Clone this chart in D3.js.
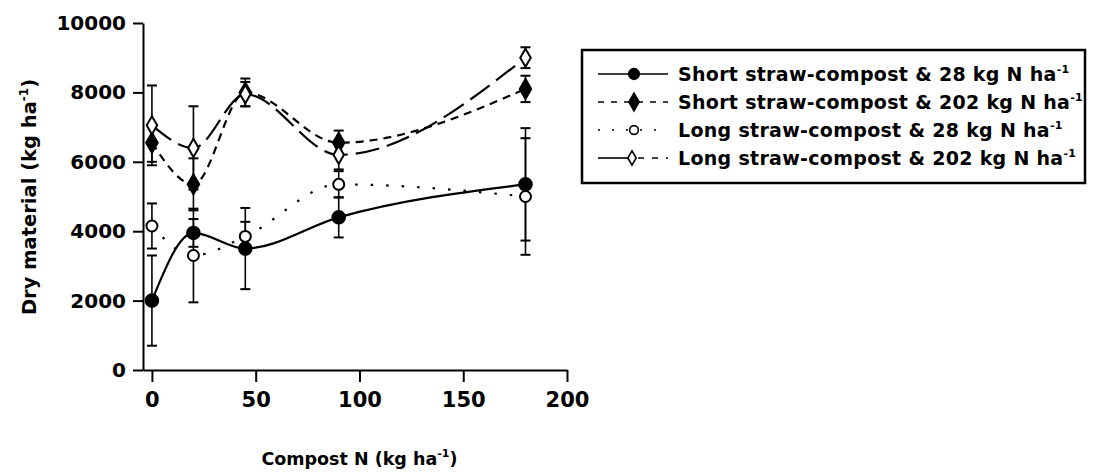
<!DOCTYPE html>
<html>
<head>
<meta charset="utf-8">
<script src="https://cdn.jsdelivr.net/npm/d3@7"></script>
<style>
    body { margin: 0; background: #fff; }
    text { font-family: "DejaVu Sans", sans-serif; font-weight: bold; fill: #000; }
    .axis path, .axis line { stroke: #000; stroke-width: 2; }
</style>
</head>
<body>
<div id="vis"></div>
<script>
// compost N applied (kg/ha)
const compostN = [0, 20, 45, 90, 180];

// dry material (kg/ha) and error bars
const shortLow = [2000, 3950, 3500, 4400, 5350];
const shortLowErr = [1300, 400, 1170, 580, 1620];
const shortHigh = [6550, 5350, 8000, 6550, 8100];
const shortHighErr = [550, 750, 400, 350, 380];
const longLow = [4150, 3300, 3850, 5350, 5000];
const longLowErr = [650, 1350, 420, 380, 1680];
const longHigh = [7050, 6400, 7950, 6200, 9000];
const longHighErr = [1150, 1200, 350, 420, 300];

const seriesNames = [
    "Short straw-compost & 28 kg N ha",
    "Short straw-compost & 202 kg N ha",
    "Long straw-compost & 28 kg N ha",
    "Long straw-compost & 202 kg N ha"
];

const xTicks = [0, 50, 100, 150, 200];
const yTicks = [0, 2000, 4000, 6000, 8000, 10000];

function init() {
    const margin = {top: 23, right: 533, bottom: 105, left: 143};
    const width = 1100 - margin.left - margin.right;
    const height = 475 - margin.top - margin.bottom;

    const series = [
        {name: seriesNames[0], values: shortLow, err: shortLowErr, marker: "circle", fill: "#000", dash: null},
        {name: seriesNames[1], values: shortHigh, err: shortHighErr, marker: "diamond", fill: "#000", dash: "8,6"},
        {name: seriesNames[2], values: longLow, err: longLowErr, marker: "circle", fill: "#fff", dash: "2.5,13"},
        {name: seriesNames[3], values: longHigh, err: longHighErr, marker: "diamond", fill: "#fff", dash: "24,8"}
    ];

    const svg = d3.select('#vis')
        .append('svg')
        .attr('width', 1100)
        .attr('height', 475)
        .append('g')
        .attr('transform', `translate(${margin.left},${margin.top})`);

    const xScale = d3.scaleLinear()
        .domain([-4.3, 200])
        .range([0, width]);
    const yScale = d3.scaleLinear()
        .domain([0, 10000])
        .range([height, 0]);

    svg.append('g')
        .attr('class', 'axis')
        .attr('transform', `translate(0, ${height})`)
        .call(d3.axisBottom(xScale).tickValues(xTicks).tickFormat(d3.format('d'))
            .tickSize(12).tickSizeOuter(0).tickPadding(10))
        .selectAll('text').style('font-size', '21px');

    svg.append('g')
        .attr('class', 'axis')
        .call(d3.axisLeft(yScale).tickValues(yTicks).tickFormat(d3.format('d'))
            .tickSize(10).tickSizeOuter(0).tickPadding(7))
        .selectAll('text').style('font-size', '20px');

    const symbolFor = s => s.marker == "circle"
        ? d3.symbol().type(d3.symbolCircle).size(s.fill == "#000" ? 125 : 95)
        : d3.symbol().type(d3.symbolDiamond).size(s.fill == "#000" ? 115 : 95);

    // error bars
    series.forEach(s => {
        const g = svg.append('g');
        compostN.forEach((x, i) => {
            const cx = xScale(x);
            const top = yScale(s.values[i] + s.err[i]);
            const bot = yScale(s.values[i] - s.err[i]);
            g.append('line').attr('x1', cx).attr('x2', cx).attr('y1', top).attr('y2', bot)
                .attr('stroke', '#000').attr('stroke-width', 1.6);
            [top, bot].forEach(y => {
                g.append('line').attr('x1', cx - 5).attr('x2', cx + 5).attr('y1', y).attr('y2', y)
                    .attr('stroke', '#000').attr('stroke-width', 2);
            });
        });
    });

    // lines
    const line = d3.line()
        .x((d, i) => xScale(compostN[i]))
        .y(d => yScale(d))
        .curve(d3.curveMonotoneX);

    series.forEach(s => {
        svg.append('path')
            .datum(s.values)
            .attr('d', line)
            .attr('fill', 'none')
            .attr('stroke', '#000')
            .attr('stroke-width', 2.2)
            .attr('stroke-dasharray', s.dash);
    });

    // markers
    series.forEach(s => {
        svg.selectAll(null)
            .data(s.values)
            .join('path')
            .attr('d', symbolFor(s))
            .attr('transform', (d, i) => `translate(${xScale(compostN[i])},${yScale(d)})`)
            .attr('fill', s.fill)
            .attr('stroke', '#000')
            .attr('stroke-width', 2);
    });

    // axis titles
    const xt = svg.append('text')
        .attr('x', xScale(100))
        .attr('y', height + 95)
        .attr('text-anchor', 'middle')
        .style('font-size', '17.5px')
        .text('Compost N (kg ha');
    xt.append('tspan').attr('dy', -8).style('font-size', '11px').text('-1');
    xt.append('tspan').attr('dy', 8).text(')');

    const yt = svg.append('text')
        .attr('transform', 'rotate(-90)')
        .attr('x', -(197 - margin.top))
        .attr('y', 36 - margin.left)
        .attr('text-anchor', 'middle')
        .style('font-size', '19.5px')
        .text('Dry material (kg ha');
    yt.append('tspan').attr('dy', -8).style('font-size', '12px').text('-1');
    yt.append('tspan').attr('dy', 8).text(')');

    // legend
    function addLegend() {
        const lg = svg.append('g').attr('transform', `translate(${582 - margin.left},${50 - margin.top})`);
        lg.append('rect')
            .attr('width', 503)
            .attr('height', 133)
            .attr('fill', '#fff')
            .attr('stroke', '#000')
            .attr('stroke-width', 2.5);

        series.forEach((s, i) => {
            const y = 24 + i * 28;
            if (i == 3) {
                lg.append('line').attr('x1', 16).attr('x2', 46).attr('y1', y).attr('y2', y)
                    .attr('stroke', '#000').attr('stroke-width', 1.6);
                lg.append('line').attr('x1', 56).attr('x2', 86).attr('y1', y).attr('y2', y)
                    .attr('stroke', '#000').attr('stroke-width', 1.6).attr('stroke-dasharray', '6,8');
            } else {
                lg.append('line').attr('x1', 16).attr('x2', 86).attr('y1', y).attr('y2', y)
                    .attr('stroke', '#000').attr('stroke-width', 1.6)
                    .attr('stroke-dasharray', s.dash == null ? null : (i == 1 ? '6,7' : '2,12'));
            }
            lg.append('path')
                .attr('d', symbolFor(s).size(s.fill == "#000" ? 90 : 60)())
                .attr('transform', `translate(${i == 3 ? 50 : 52},${y})`)
                .attr('fill', s.fill)
                .attr('stroke', '#000')
                .attr('stroke-width', 1.6);

            const t = lg.append('text')
                .attr('x', 96)
                .attr('y', y + 7)
                .style('font-size', '19px')
                .style('letter-spacing', '0.3px')
                .text(s.name);
            t.append('tspan').attr('dy', -8).style('font-size', '11px').text('-1');
        });
    }
    addLegend();
}

window.addEventListener('load', init);
</script>
</body>
</html>
